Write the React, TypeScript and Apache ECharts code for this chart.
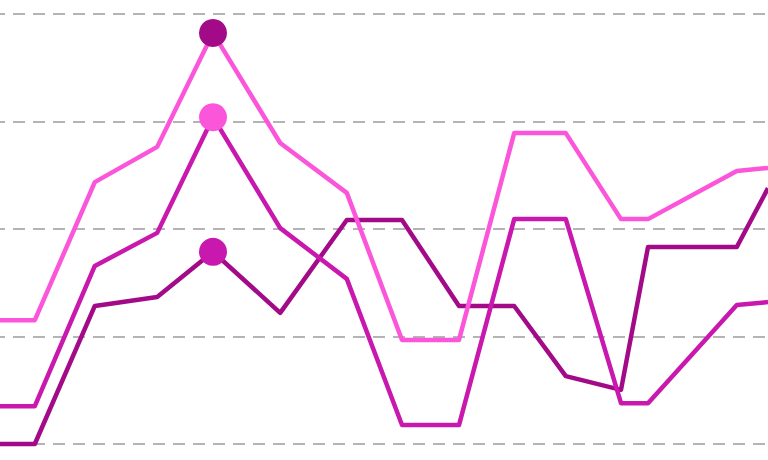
import React, { useEffect, useRef } from 'react';
import * as echarts from 'echarts';

// x positions (arbitrary units) shared by all three series
const xValues = [0, 5.8, 15.8, 26.2, 35.5, 46.7, 57.8, 67, 76.5, 85.7, 94.3, 103.5, 108, 122.8, 128];

const lightSeries = [28.8, 28.8, 60.9, 69.1, 95.6, 70.0, 58.4, 24.2, 24.2, 72.3, 72.3, 52.3, 52.3, 63.5, 64.2];
const midSeries = [8.8, 8.8, 41.4, 49.1, 76.0, 50.2, 38.4, 4.4, 4.4, 52.3, 52.3, 9.5, 9.5, 32.3, 33.0];
const darkSeries = [0, 0, 32.1, 34.2, 44.7, 30.5, 52.1, 52.1, 32.1, 32.1, 15.8, 12.6, 45.8, 45.8, 59.5];

const LIGHT = '#fb55da';
const MID = '#c918ad';
const DARK = '#a30a88';

// highlighted point index (markers use a shifted colour)
const highlightIndex = 4;

export default function App() {
  const chartRef = useRef<HTMLDivElement>(null);

  useEffect(() => {
    if (!chartRef.current) return;
    const chart = echarts.init(chartRef.current, undefined, { renderer: 'svg' });

    const toPairs = (ys: number[]) => ys.map((y, i) => [xValues[i], y]);

    const lineStyleFor = (color: string) => ({
      type: 'line' as const,
      symbol: 'none',
      clip: false,
      lineStyle: { color, width: 4.5, join: 'round' as const },
      itemStyle: { color },
    });

    const option: echarts.EChartsOption = {
      animation: false,
      backgroundColor: '#ffffff',
      grid: { left: 0, right: 0, top: 14, bottom: 16 },
      xAxis: {
        type: 'value',
        min: 0,
        max: 128,
        show: false,
      },
      yAxis: {
        type: 'value',
        min: 0,
        max: 100,
        interval: 25,
        axisLine: { show: false },
        axisTick: { show: false },
        axisLabel: { show: false },
        splitLine: {
          show: true,
          lineStyle: { color: '#b4b4b4', width: 2, type: [12, 8], dashOffset: 7 },
        },
      },
      series: [
        { ...lineStyleFor(DARK), data: toPairs(darkSeries) },
        { ...lineStyleFor(MID), data: toPairs(midSeries) },
        { ...lineStyleFor(LIGHT), data: toPairs(lightSeries) },
        {
          type: 'scatter',
          symbol: 'circle',
          symbolSize: 28,
          z: 5,
          itemStyle: { opacity: 1 },
          data: [
            { value: [xValues[highlightIndex], lightSeries[highlightIndex]], itemStyle: { color: DARK, opacity: 1 } },
            { value: [xValues[highlightIndex], midSeries[highlightIndex]], itemStyle: { color: LIGHT, opacity: 1 } },
            { value: [xValues[highlightIndex], darkSeries[highlightIndex]], itemStyle: { color: MID, opacity: 1 } },
          ],
        },
      ],
    };

    chart.setOption(option);

    return () => {
      chart.dispose();
    };
  }, []);

  return (
    <div
      ref={chartRef}
      style={{ position: 'fixed', left: 0, top: 0, width: 768, height: 460 }}
    />
  );
}
